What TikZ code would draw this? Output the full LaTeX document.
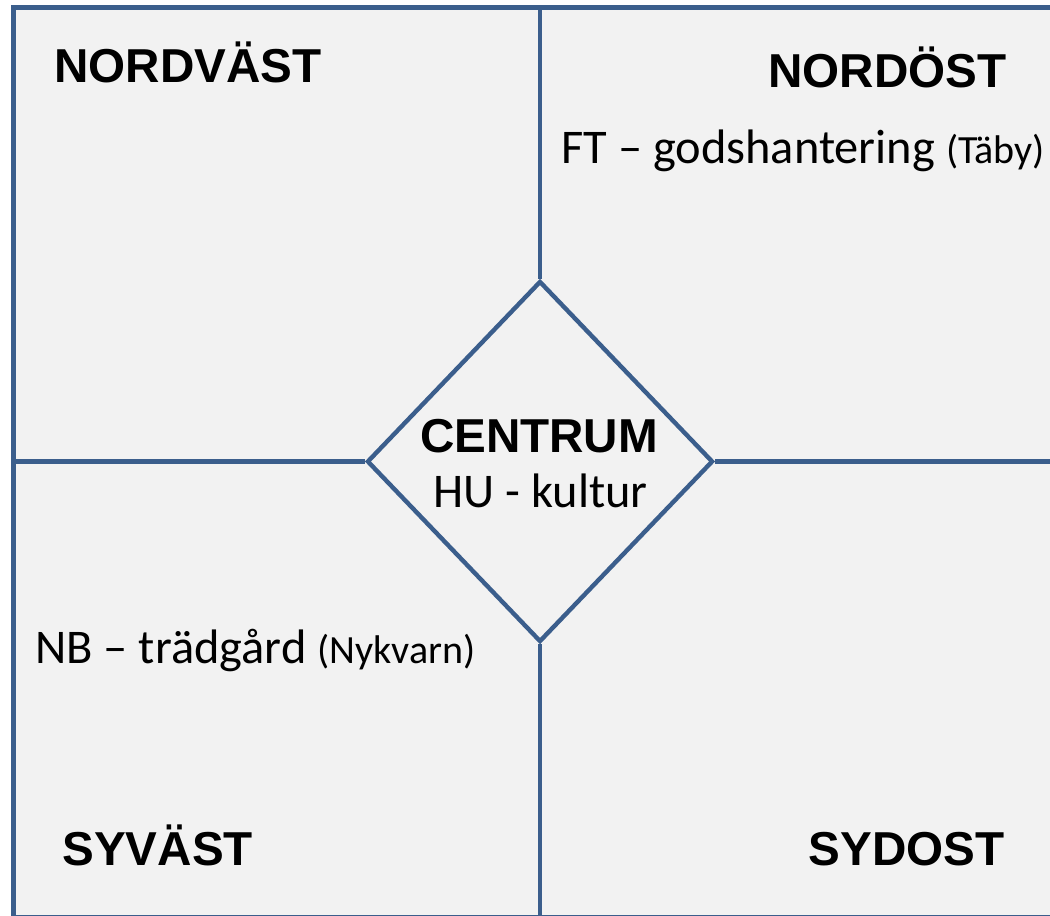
\documentclass[tikz,border=0pt]{standalone}
\usepackage{fontspec}
\setmainfont{Carlito}
\newfontfamily\headfont{Liberation Sans}
\usetikzlibrary{shapes.geometric}
\definecolor{linecol}{RGB}{59,94,140}
\definecolor{boxfill}{RGB}{242,242,242}

\begin{document}
\begin{tikzpicture}[x=0.5pt, y=-0.5pt,
  rule/.style={draw=linecol, line width=2.2pt},
  head/.style={font=\headfont\bfseries\fontsize{23.8}{28}\selectfont, inner sep=0pt},
  note/.style={font=\fontsize{24.2}{28}\selectfont, inner sep=0pt}]
  \clip (0,0) rectangle (1050,916);
  \node (frame) [draw=linecol, line width=2.6pt, fill=boxfill, inner sep=0pt,
    minimum width=523.25pt, minimum height=455.25pt] at (536.75,462.75) {};
  \node (centre) [diamond, draw=linecol, line width=2.2pt, inner sep=0pt,
    minimum width=173pt, minimum height=180.5pt] at (540,461.5) {};
  \draw[rule] (centre.north) -- (centre.north |- frame.north);
  \draw[rule] (centre.south) -- (centre.south |- frame.south);
  \draw[rule] (centre.west) -- (centre.west -| frame.west);
  \draw[rule] (centre.east) -- (centre.east -| frame.east);
  \node (nw) [head, anchor=base west] at (54,82) {NORDVÄST};
  \node (ne) [head, anchor=base west] at (768,87) {NORDÖST};
  \node (sw) [head, anchor=base west] at (62,865) {SYVÄST};
  \node (se) [head, anchor=base east] at (1005,865) {SYDOST};
  \node (centrum) [head, anchor=base] at (539,452) {CENTRUM};
  \node (hu) [note, anchor=base] at (540.5,507) {HU - kultur};
  \node (ft) [note, anchor=base west] at (561,163) {FT – godshantering {\fontsize{20}{22}\selectfont(Täby)}};
  \node (nb) [note, anchor=base west] at (35,663) {NB – trädgård {\fontsize{20}{22}\selectfont(Nykvarn)}};
\end{tikzpicture}
\end{document}
